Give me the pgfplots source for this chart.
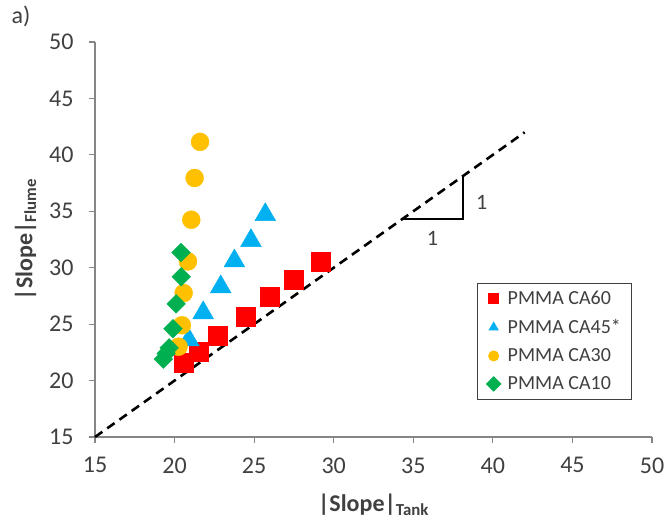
\documentclass[border=0pt]{standalone}
\usepackage{pgfplots}
\pgfplotsset{compat=1.18}
\usepackage{fontspec}
\setmainfont{Carlito}
\definecolor{cRed}{HTML}{FF0000}
\definecolor{cBlue}{HTML}{00B0F0}
\definecolor{cYel}{HTML}{FFC000}
\definecolor{cGrn}{HTML}{00B050}
\definecolor{axgray}{HTML}{868686}
\definecolor{txt}{HTML}{404040}
\begin{document}
\begin{tikzpicture}
\useasboundingbox (-95bp,-89bp) rectangle (571bp,437bp);
\begin{axis}[
  at={(0,0)}, anchor=origin,
  scale only axis, width=557bp, height=395bp,
  xmin=15, xmax=50, ymin=15, ymax=50,
  xtick={15,20,...,50}, ytick={15,20,...,50},
  axis lines=left, axis line style={-, axgray, line width=1.2bp},
  tick align=outside, major tick length=6bp,
  tick style={axgray, line width=1.2bp},
  /pgf/number format/assume math mode=true,
  ticklabel style={font=\fontsize{24bp}{28bp}\selectfont, text=txt},
  yticklabel style={xshift=-12bp},
  xticklabel style={yshift=-11bp},
  xlabel={\textbf{|Slope|}\textsubscript{\textbf{Tank}}},
  ylabel={\textbf{|Slope|}\textsubscript{\textbf{Flume}}},
  label style={font=\fontsize{24bp}{28bp}\selectfont, text=txt},
  xlabel style={yshift=-14bp},
  ylabel style={yshift=6bp},
  clip=false,
  legend style={at={(rel axis cs:0.686,0.391)}, anchor=north west,
    draw=txt, line width=1bp, font=\fontsize{20bp}{24bp}\selectfont,
    text=txt, row sep=9.5bp, column sep=5bp, inner xsep=9bp, inner ysep=6bp},
  legend cell align=left,
  legend image code/.code={\draw[#1, mark size=5bp] plot coordinates {(0.12cm,0cm)};},
]
\addplot[only marks, mark=square*, mark size=9.5bp, draw=none, mark options={fill=cRed, draw=cRed}]
 coordinates {(20.6,21.6) (21.5,22.6) (22.7,24.0) (24.45,25.7) (26.0,27.4) (27.5,28.9) (29.2,30.5)};
\addlegendentry{PMMA CA60}
\addplot[only marks, mark=triangle*, mark size=12bp, draw=none, mark options={fill=cBlue, draw=cBlue}]
 coordinates {(20.9,23.6) (21.8,26.0) (22.9,28.3) (23.76,30.6) (24.8,32.4) (25.7,34.7)};
\addlegendentry{PMMA CA45*}
\addplot[only marks, mark=*, mark size=9bp, draw=none, mark options={fill=cYel, draw=cYel}]
 coordinates {(20.25,23.0) (20.46,24.9) (20.57,27.75) (20.84,30.56) (21.05,34.25) (21.26,37.95) (21.6,41.15)};
\addlegendentry{PMMA CA30}
\addplot[only marks, mark=square*, mark size=6.6bp, draw=none, mark options={fill=cGrn, draw=cGrn, rotate=45}]
 coordinates {(19.3,21.9) (19.47,22.4) (19.66,22.9) (19.9,24.6) (20.1,26.8) (20.42,29.2) (20.4,31.35)};
\addlegendentry{PMMA CA10}
\addplot[black, line width=2.6bp, dash pattern=on 9bp off 6bp, forget plot] coordinates {(15,15) (42,42)};
\addplot[black, line width=2bp, forget plot] coordinates {(34.3,34.3) (38.1,34.3) (38.1,38.1)};
\node[font=\fontsize{22bp}{26bp}\selectfont, text=txt] at (axis cs:36.2,32.6) {1};
\node[font=\fontsize{22bp}{26bp}\selectfont, text=txt] at (axis cs:39.3,35.8) {1};
\end{axis}
\node[font=\fontsize{24bp}{28bp}\selectfont, text=txt, anchor=north west] at (-87bp,435bp) {a)};
\end{tikzpicture}
\end{document}
